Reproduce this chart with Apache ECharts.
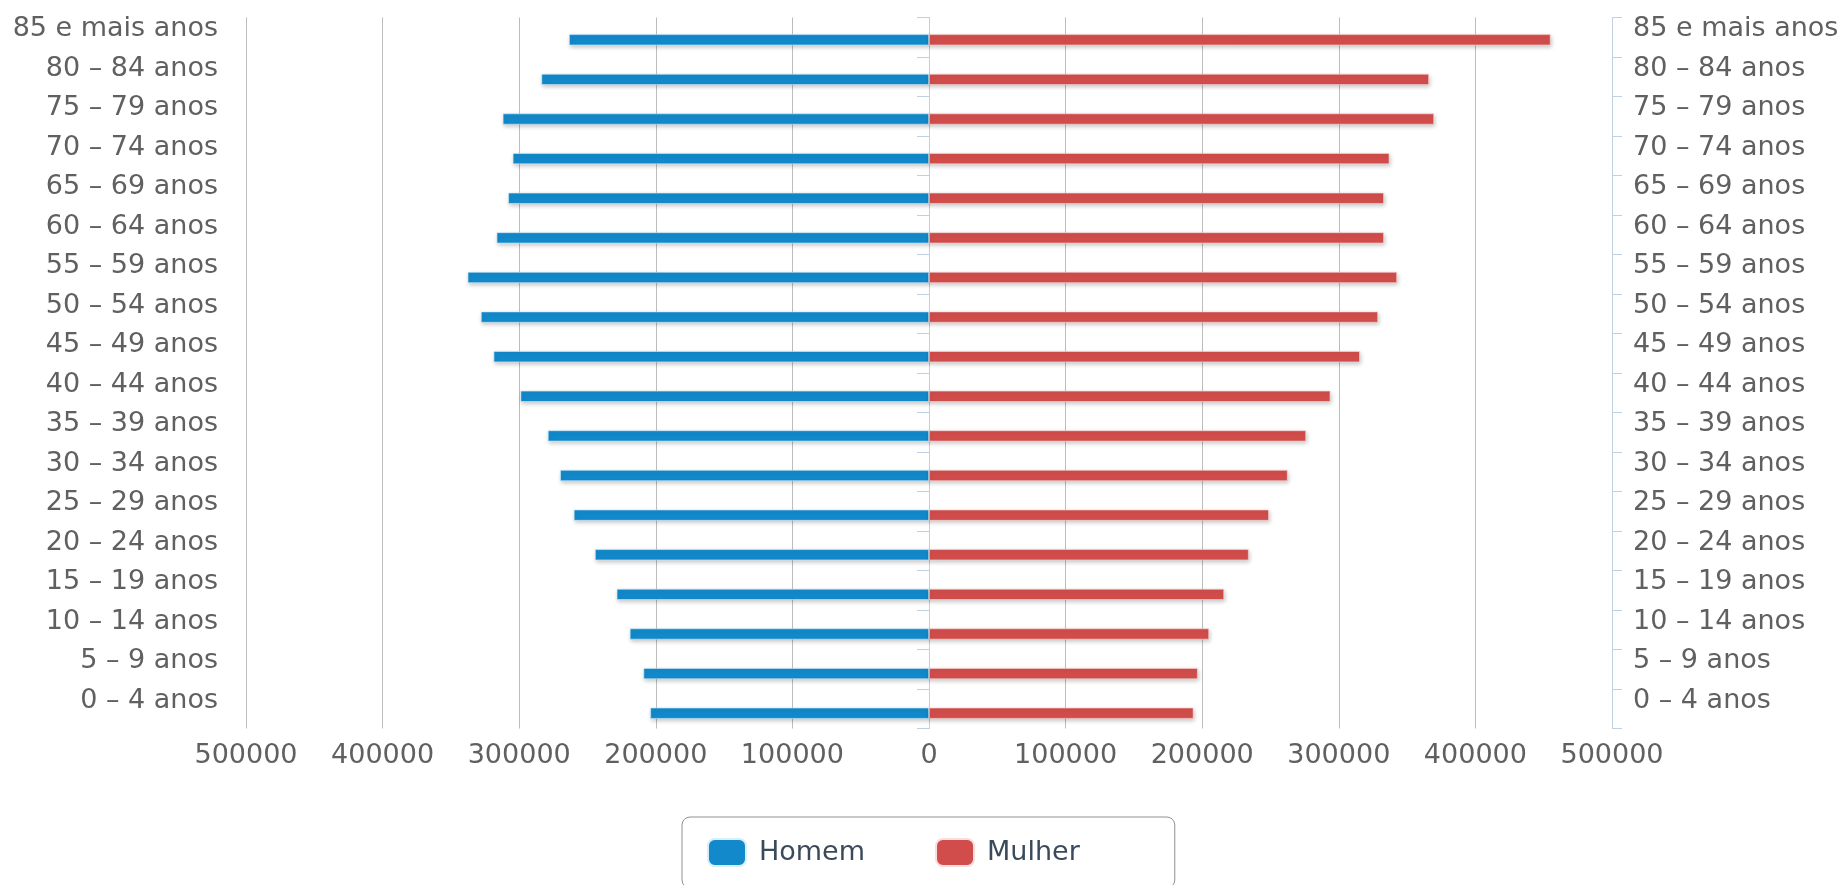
<!DOCTYPE html>
<html>
<head>
<meta charset="utf-8">
<script src="https://cdn.jsdelivr.net/npm/echarts@6/dist/echarts.min.js"></script>
<style>
html,body{margin:0;padding:0;background:#fff;}
#chart{width:1845px;height:885px;}
</style>
</head>
<body>
<div id="chart"></div>
<script>
// Age groups, bottom to top (category axis starts from the bottom)
var categories = ['0 – 4 anos','5 – 9 anos','10 – 14 anos','15 – 19 anos','20 – 24 anos','25 – 29 anos','30 – 34 anos','35 – 39 anos','40 – 44 anos','45 – 49 anos','50 – 54 anos','55 – 59 anos','60 – 64 anos','65 – 69 anos','70 – 74 anos','75 – 79 anos','80 – 84 anos','85 e mais anos'];
// Men (drawn to the left, stored as negative values)
var homem = [-204000,-209000,-219000,-228600,-244500,-260000,-270000,-279000,-299000,-318700,-328000,-337700,-316500,-308000,-304700,-312000,-283700,-263500];
// Women
var mulher = [193600,196700,205000,216000,234000,248800,262500,276000,293800,315400,328700,342600,333000,333000,337000,369700,366000,455000];
// Value axis ticks
var xMin = -500000, xMax = 500000, xInterval = 100000;

var FONT = 'DejaVu Sans';
var chart = echarts.init(document.getElementById('chart'), null, {renderer:'canvas'});
var labelCommon = {fontFamily: FONT, fontSize: 27, color: '#606060'};

chart.setOption({
  animation: false,
  backgroundColor: '#ffffff',
  grid: [
    {left: 246, width: 1366, top: 17.5, height: 711},
    {left: 246, width: 1366, top: 20, height: 713}
  ],
  legend: {
    data: ['Homem','Mulher'],
    left: 682, top: 817,
    orient: 'horizontal',
    itemWidth: 38, itemHeight: 27, itemGap: 70,
    padding: [21, 95, 21, 25],
    borderColor: '#909090', borderWidth: 1, borderRadius: 8,
    icon: 'roundRect',
    textStyle: {fontFamily: FONT, fontSize: 27, color: '#3b4a5a', padding: [0,0,0,8]}
  },
  xAxis: [
    {
      type: 'value', gridIndex: 0, min: xMin, max: xMax, interval: xInterval,
      axisLine: {show: false}, axisTick: {show: false},
      splitLine: {show: true, lineStyle: {color: '#BDBDBD', width: 1}},
      axisLabel: Object.assign({margin: 14, formatter: function(v){ return String(Math.abs(v)); }}, labelCommon)
    },
    {
      type: 'value', gridIndex: 1, min: xMin, max: xMax, interval: xInterval, show: false
    }
  ],
  yAxis: [
    {
      type: 'category', gridIndex: 0, position: 'left', data: categories,
      axisLine: {show: true, lineStyle: {color: '#C0D0E0', width: 1}},
      axisTick: {show: true, length: 12, lineStyle: {color: '#C0D0E0'}},
      splitLine: {show: false},
      axisLabel: Object.assign({margin: 28, verticalAlign: 'bottom', lineHeight: 16}, labelCommon)
    },
    {
      type: 'category', gridIndex: 0, position: 'right', data: categories,
      axisLine: {show: true, lineStyle: {color: '#C0D0E0', width: 1}},
      axisTick: {show: true, length: 10, lineStyle: {color: '#C0D0E0'}},
      splitLine: {show: false},
      axisLabel: Object.assign({margin: 21, verticalAlign: 'bottom', lineHeight: 16}, labelCommon)
    },
    {
      type: 'category', gridIndex: 1, data: categories, show: false
    }
  ],
  series: [
    {
      name: 'Homem', type: 'bar', stack: 'total', xAxisIndex: 1, yAxisIndex: 2,
      barWidth: 11, data: homem,
      itemStyle: {color: '#1289cb', borderColor: '#d8eef8', borderWidth: 0.6,
        shadowColor: 'rgba(0,0,0,0.22)', shadowBlur: 4, shadowOffsetX: 1, shadowOffsetY: 2}
    },
    {
      name: 'Mulher', type: 'bar', stack: 'total', xAxisIndex: 1, yAxisIndex: 2,
      barWidth: 11, data: mulher,
      itemStyle: {color: '#d14d4b', borderColor: '#f8dede', borderWidth: 0.6,
        shadowColor: 'rgba(0,0,0,0.22)', shadowBlur: 4, shadowOffsetX: 1, shadowOffsetY: 2}
    }
  ]
});
</script>
</body>
</html>
